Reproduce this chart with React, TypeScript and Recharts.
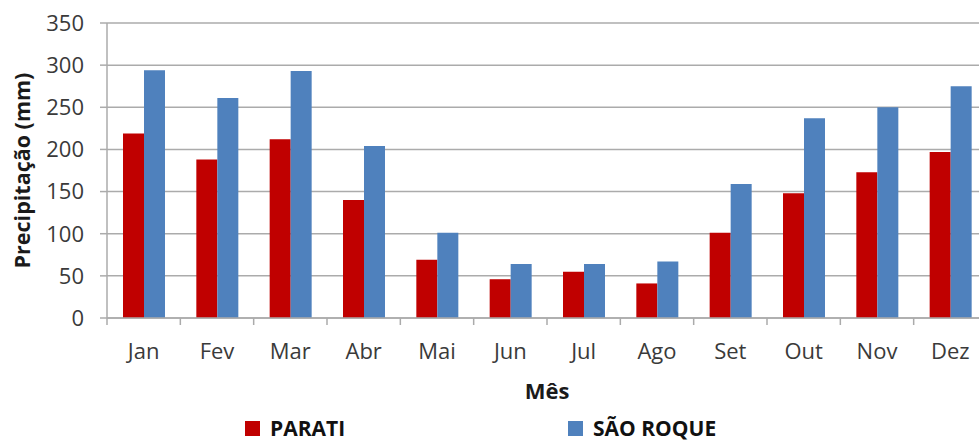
import { Bar, BarChart, CartesianGrid, XAxis, YAxis } from "recharts";

const months = ["Jan", "Fev", "Mar", "Abr", "Mai", "Jun", "Jul", "Ago", "Set", "Out", "Nov", "Dez"];
const parati = [219, 188, 212, 140, 69, 46, 55, 41, 101, 148, 173, 197];
const saoRoque = [294, 261, 293, 204, 101, 64, 64, 67, 159, 237, 250, 275];
const yTicks = [0, 50, 100, 150, 200, 250, 300, 350];

const series = [
  { key: "parati", name: "PARATI", color: "#C00000" },
  { key: "saoRoque", name: "SÃO ROQUE", color: "#4F81BD" },
];

const data = months.map((month, i) => ({
  month,
  parati: parati[i],
  saoRoque: saoRoque[i],
}));

const FONT = "'Open Sans', sans-serif";
const GRID = "#ababab";
const TICK_SIZE = 7;
const TICK_MARGIN = 18;

// category label in the middle, tick mark on the band edges
function MonthTick(props: any) {
  const { x, y, payload, index } = props;
  const half = payload?.offset ?? 0;
  const axisY = y - TICK_SIZE - TICK_MARGIN;
  return (
    <g>
      <line x1={x - half} x2={x - half} y1={axisY} y2={axisY + TICK_SIZE} stroke={GRID} strokeWidth={1.5} />
      {index === months.length - 1 && (
        <line x1={x + half} x2={x + half} y1={axisY} y2={axisY + TICK_SIZE} stroke={GRID} strokeWidth={1.5} />
      )}
      <text x={x} y={y} dy="0.71em" textAnchor="middle" fill="#3a3a3a" fontSize={22} fontFamily={FONT}>
        {payload.value}
      </text>
    </g>
  );
}

export default function App() {
  return (
    <div
      style={{
        position: "fixed",
        left: 0,
        top: 0,
        width: 979,
        height: 442,
        overflow: "hidden",
        background: "#fff",
        fontFamily: FONT,
      }}
    >
      <BarChart
        width={1000}
        height={442}
        data={data}
        margin={{ top: 23, right: 13, left: 0, bottom: 68 }}
        barSize={21}
        barGap={0}
      >
        <CartesianGrid vertical={false} stroke={GRID} strokeWidth={1.5} />
        <XAxis
          dataKey="month"
          height={56}
          axisLine={{ stroke: GRID, strokeWidth: 1.5 }}
          tickLine={false}
          tickSize={TICK_SIZE}
          tickMargin={TICK_MARGIN}
          tick={<MonthTick />}
          interval={0}
          label={{
            value: "Mês",
            position: "bottom",
            offset: 9,
            style: { fontWeight: 700, fontSize: 22, fill: "#1a1a1a", fontFamily: FONT },
          }}
        />
        <YAxis
          width={107}
          domain={[0, 350]}
          ticks={yTicks}
          interval={0}
          axisLine={{ stroke: GRID, strokeWidth: 1.5 }}
          tickLine={{ stroke: GRID, strokeWidth: 1.5 }}
          tickSize={TICK_SIZE}
          tickMargin={16}
          tick={{ fill: "#3a3a3a", fontSize: 22, fontFamily: FONT }}
          label={{
            value: "Precipitação  (mm)",
            angle: -90,
            position: "insideLeft",
            offset: 22,
            style: {
              textAnchor: "middle",
              whiteSpace: "pre",
              fontWeight: 700,
              fontSize: 21.5,
              fill: "#1a1a1a",
              fontFamily: FONT,
            },
          }}
        />
        {series.map((s) => (
          <Bar key={s.key} dataKey={s.key} name={s.name} fill={s.color} isAnimationActive={false} />
        ))}
      </BarChart>
      {series.map((s, i) => (
        <div
          key={s.key}
          style={{
            position: "absolute",
            left: i === 0 ? 245 : 568,
            top: 418,
            display: "flex",
            alignItems: "flex-start",
            fontSize: 21,
            lineHeight: "21px",
            fontWeight: 700,
            color: "#111",
            whiteSpace: "nowrap",
          }}
        >
          <span style={{ display: "inline-block", width: 15, height: 15, background: s.color, marginTop: 3, marginRight: 10 }} />
          <span>{s.name}</span>
        </div>
      ))}
    </div>
  );
}
